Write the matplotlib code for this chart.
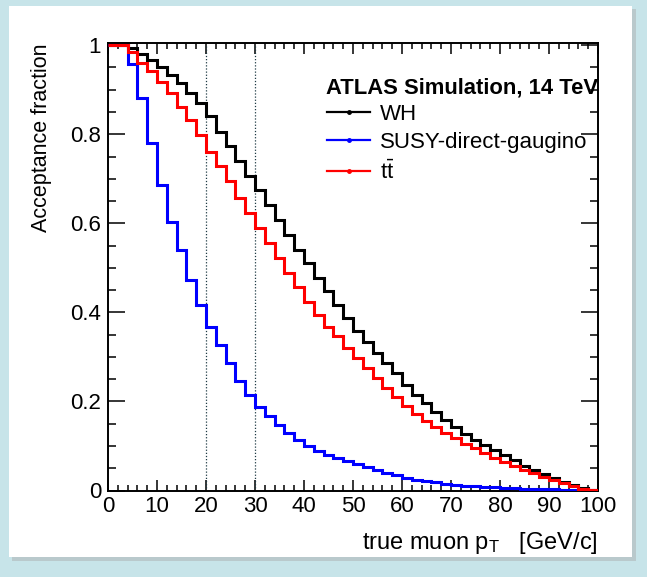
import numpy as np
import matplotlib
matplotlib.use("Agg")
import matplotlib.pyplot as plt
from matplotlib.patches import Rectangle
from matplotlib.lines import Line2D
from matplotlib.ticker import MultipleLocator, FixedLocator

plt.rcParams['font.family'] = ['Liberation Sans', 'DejaVu Sans']
plt.rcParams['mathtext.fontset'] = 'custom'
plt.rcParams['mathtext.rm'] = 'Liberation Sans'
plt.rcParams['mathtext.it'] = 'Liberation Sans:italic'
plt.rcParams['mathtext.bf'] = 'Liberation Sans:bold'

# ---- data ----
bin_edges = np.arange(0, 102, 2)

wh = [1.000, 1.000, 0.993, 0.981, 0.967, 0.952, 0.933, 0.915, 0.892, 0.870,
      0.840, 0.806, 0.773, 0.739, 0.707, 0.674, 0.642, 0.608, 0.574, 0.541,
      0.510, 0.478, 0.447, 0.417, 0.387, 0.358, 0.334, 0.308, 0.286, 0.263,
      0.237, 0.214, 0.196, 0.177, 0.158, 0.142, 0.126, 0.113, 0.102, 0.091,
      0.080, 0.068, 0.056, 0.045, 0.036, 0.027, 0.020, 0.012, 0.006, 0.001]

susy = [1.000, 1.000, 0.958, 0.881, 0.780, 0.687, 0.604, 0.539, 0.473, 0.417,
        0.368, 0.327, 0.286, 0.245, 0.215, 0.188, 0.167, 0.147, 0.130, 0.113,
        0.100, 0.089, 0.080, 0.072, 0.066, 0.060, 0.053, 0.047, 0.040, 0.034,
        0.028, 0.024, 0.021, 0.018, 0.015, 0.013, 0.011, 0.009, 0.008, 0.007,
        0.006, 0.005, 0.004, 0.004, 0.003, 0.003, 0.002, 0.002, 0.001, 0.001]

ttbar = [1.000, 1.000, 0.985, 0.960, 0.941, 0.918, 0.892, 0.862, 0.832, 0.798,
         0.761, 0.728, 0.694, 0.657, 0.623, 0.589, 0.555, 0.522, 0.488, 0.456,
         0.424, 0.394, 0.368, 0.346, 0.320, 0.297, 0.275, 0.252, 0.230, 0.210,
         0.190, 0.172, 0.157, 0.143, 0.130, 0.117, 0.105, 0.095, 0.084, 0.073,
         0.065, 0.055, 0.046, 0.039, 0.031, 0.024, 0.016, 0.010, 0.004, 0.001]

series_labels = ["WH", "SUSY-direct-gaugino", r"t$\bar{\mathrm{t}}$"]
series_colors = ["#000000", "#0000ff", "#ff0000"]
cut_lines = [20, 30]
x_ticks = list(range(0, 101, 10))
y_ticks = [0, 0.2, 0.4, 0.6, 0.8, 1.0]
y_tick_labels = ["0", "0.2", "0.4", "0.6", "0.8", "1"]

W, H = 647, 577
fig = plt.figure(figsize=(W / 100, H / 100), dpi=100)
fig.patch.set_facecolor("#c7e4e9")

# white panel with shadow
fig.patches.append(Rectangle((12 / W, 1 - 561 / H), 624 / W, 552 / H,
                             transform=fig.transFigure, facecolor="#b9c9cc",
                             edgecolor="none", zorder=-2))
fig.patches.append(Rectangle((9 / W, 1 - 557 / H), 623 / W, 551 / H,
                             transform=fig.transFigure, facecolor="white",
                             edgecolor="none", zorder=-1))

ax = fig.add_axes([108 / W, 1 - 490.5 / H, 490 / W, 447.5 / H])
ax.set_facecolor("white")

for vals, col in zip([wh, susy, ttbar], series_colors):
    ax.stairs(vals, bin_edges, color=col, linewidth=2.2, baseline=None, zorder=3)

for xc in cut_lines:
    ax.plot([xc, xc], [0, 1.0], color="#1f3a44", linestyle=(0, (1, 1.5)),
            linewidth=0.9, zorder=2)

ax.set_xlim(0, 100)
ax.set_ylim(0, 1.005)

ax.xaxis.set_major_locator(FixedLocator(x_ticks))
ax.xaxis.set_minor_locator(MultipleLocator(2))
ax.yaxis.set_major_locator(FixedLocator(y_ticks))
ax.yaxis.set_minor_locator(MultipleLocator(0.05))
ax.set_yticklabels(y_tick_labels)

ax.tick_params(axis="both", which="both", direction="in", top=True, right=True,
               labelsize=16, colors="black", width=1.1)
ax.tick_params(axis="x", which="major", length=8, pad=4)
ax.tick_params(axis="x", which="minor", length=4.5)
ax.tick_params(axis="y", which="major", length=12, pad=5)
ax.tick_params(axis="y", which="minor", length=6)

for sp in ax.spines.values():
    sp.set_linewidth(1.4)

ax.set_xlabel(r"true muon p$_{\mathrm{T}}$   [GeV/c]", fontsize=17,
              loc="right", labelpad=9)
ax.set_ylabel("Acceptance fraction", fontsize=15.5, loc="top", labelpad=13)

# legend-like annotation (ROOT style)
ax.text(0.445, 0.90, "ATLAS Simulation, 14 TeV", transform=ax.transAxes,
        fontsize=15.8, fontweight="bold", ha="left", va="center")
handles = [Line2D([0], [0], color=c, linewidth=1.6, marker="o", markersize=2.5)
           for c in series_colors]
leg = ax.legend(handles, series_labels, loc="upper left",
                bbox_to_anchor=(0.447, 0.864), frameon=False, fontsize=16,
                handlelength=1.95, handletextpad=0.45, labelspacing=0.33,
                borderaxespad=0, borderpad=0)

fig.savefig("out.png", dpi=100, facecolor=fig.get_facecolor())
